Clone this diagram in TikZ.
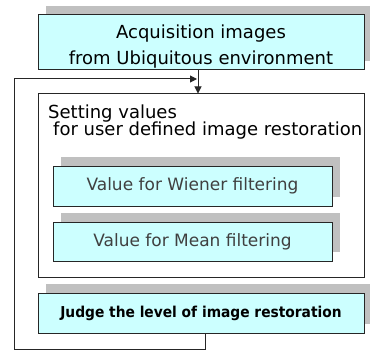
\documentclass[tikz,border=0pt]{standalone}
\usepackage{fontspec}
\setmainfont{DejaVu Sans}
\usetikzlibrary{shadows,arrows.meta}
\definecolor{boxfill}{HTML}{CCFFFF}
\definecolor{shadowgray}{HTML}{C0C0C0}
\definecolor{textgray}{HTML}{404040}
\newcommand\mytightlines{\lineskiplimit=-20pt\relax}
\tikzset{
  cyanbox/.style={draw=black!85, line width=1pt, fill=boxfill, inner sep=0pt, align=center,
    general shadow={fill=shadowgray, shadow xshift=8pt, shadow yshift=9pt}},
  framebox/.style={draw=black!85, line width=1pt, fill=white, inner sep=0pt},
  conn/.style={draw=black!85, line width=1pt},
  tip/.style={-{Triangle[length=7pt,width=7pt]}}
}
\begin{document}
\begin{tikzpicture}[x=1pt,y=-1pt]
\fill[white] (0,0) rectangle (370,361);
\clip (0,0) rectangle (370,361);
\useasboundingbox (0,0) rectangle (370,361);
\node[cyanbox, minimum width=326pt, minimum height=55pt] (top) at (201,42.5) {};
\node[anchor=north, inner sep=0pt, align=center,
  font=\fontsize{18}{25.5}\selectfont\mytightlines] (toptxt) at (201,25)
  {Acquisition images\\from Ubiquitous environment};
\node[framebox, minimum width=326pt, minimum height=183pt] (set) at (201,185.5) {};
\node[anchor=north west, inner sep=0pt, align=left,
  font=\fontsize{18}{17.5}\selectfont\mytightlines] (settxt) at (48,104.5)
  {Setting values\\\hspace*{5pt}for user defined image restoration};
\node[cyanbox, minimum width=279pt, minimum height=40pt, text=textgray,
  font=\fontsize{17}{20}\selectfont] (wiener) at (192.5,186) {\raisebox{1.5pt}{Value for Wiener filtering}};
\node[cyanbox, minimum width=279pt, minimum height=39pt, text=textgray,
  font=\fontsize{17}{20}\selectfont] (mean) at (192.5,241.5) {\raisebox{-1.5pt}{Value for Mean filtering}};
\node[cyanbox, minimum width=326pt, minimum height=40pt,
  font=\bfseries\fontsize{15}{18}\selectfont] (judge) at (201,313)
  {\scalebox{0.92}[1]{Judge the level of image restoration}};
\coordinate (cl) at (14,349);
\coordinate (ct) at (14,79);
\draw[conn, tip] ([xshift=-3pt]top.south) -- ([xshift=-3pt]set.north);
\draw[conn, tip] ([xshift=4pt]judge.south) |- (cl) |- ([xshift=-4pt]top.south |- ct);
\end{tikzpicture}
\end{document}
